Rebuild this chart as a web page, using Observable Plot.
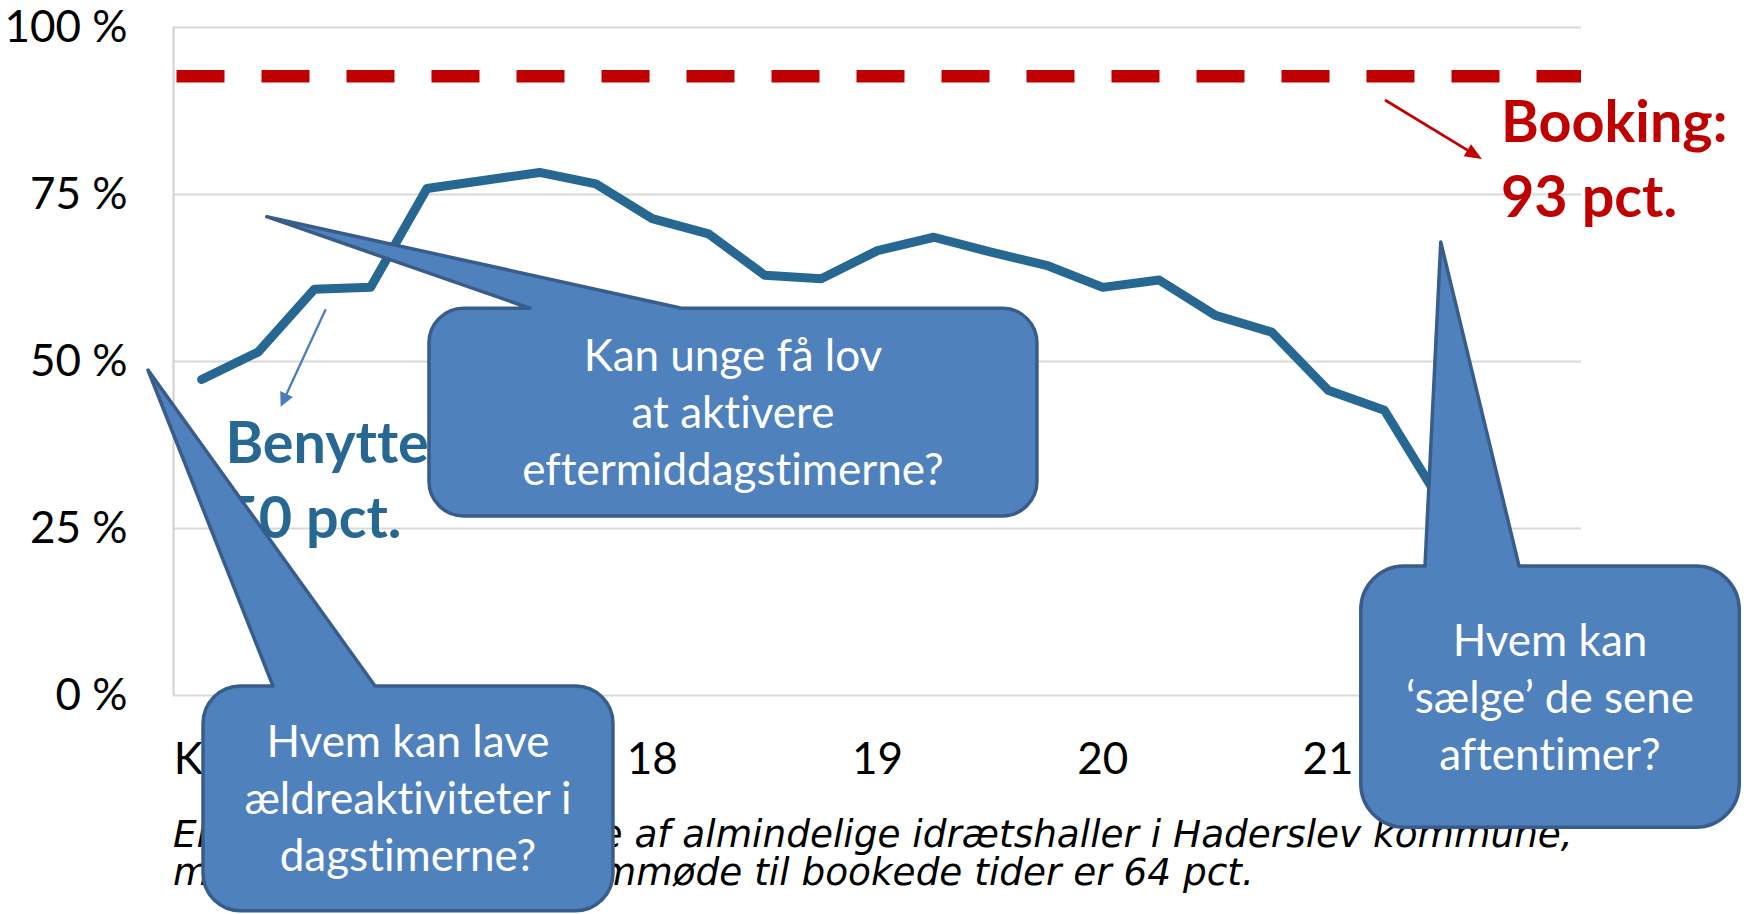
<!DOCTYPE html>
<html><head><meta charset="utf-8">
<script src="https://cdn.jsdelivr.net/npm/d3@7"></script>
<script src="https://cdn.jsdelivr.net/npm/@observablehq/plot@0.6"></script>
<style>html,body{margin:0;padding:0;background:#fff;overflow:hidden} svg text{font-variant-ligatures:none;font-feature-settings:"liga" 0}</style>
</head><body><div id="chart"></div>
<script>
// ---- data ----
const times = ["16:00","16:15","16:30","16:45","17:00","17:15","17:30","17:45",
  "18:00","18:15","18:30","18:45","19:00","19:15","19:30","19:45",
  "20:00","20:15","20:30","20:45","21:00","21:15","21:30","21:45","22:00"];
const usage = [47.3, 51.4, 60.8, 61.1, 75.9, 77.1, 78.3, 76.6,
  71.4, 69.1, 62.9, 62.4, 66.6, 68.6, 66.4, 64.4,
  61.1, 62.2, 56.9, 54.4, 45.7, 42.7, 29, 20, 12];
const booking = 92.7;
const yTicks = [0, 25, 50, 75, 100];
const yTickLabels = ["0 %", "25 %", "50 %", "75 %", "100 %"];
const xTicks = [0, 4, 8, 12, 16, 20, 24];
const xTickLabels = ["Kl. 16", "17", "18", "19", "20", "21", "22"];
const bookingLabel = ["Booking:", "93 pct."];
const usageLabel = ["Benyttelse:", "50 pct."];
const captionLines = [
  "Eksempel på benyttelse af almindelige idrætshaller i Haderslev kommune,",
  "mens det egentlige fremmøde til bookede tider er 64 pct."
];
const callout1Text = ["Kan unge få lov", "at aktivere", "eftermiddagstimerne?"];
const callout2Text = ["Hvem kan lave", "ældreaktiviteter i", "dagstimerne?"];
const callout3Text = ["Hvem kan", "‘sælge’ de sene", "aftentimer?"];

const rows = times.map((t, i) => ({t, i, v: usage[i]}));

// ---- annotation placement (in data units: x = quarter-hour index, y = percent) ----
const callouts = [
  {text: callout1Text, x0: 4.045, x1: 14.84, yTop: 57.9, yBot: 26.8, ax: 1.164, ay: 71.6, b0: 5.84, b1: 8.53},
  {text: callout2Text, x0: 0.033, x1: 7.312, yTop: 1.35, yBot: -32.3, ax: -0.944, ay: 48.65, b0: 1.276, b1: 3.087},
  {text: callout3Text, x0: 20.59, x1: 27.31, yTop: 19.3, yBot: -19.8, ax: 22.01, ay: 67.8, b0: 21.73, b1: 23.4}
];
const arrows = [
  {x1: 21.02, y1: 89.07, x2: 22.74, y2: 80.24, color: "#c00000", w: 2.7, len: 17, half: 7},
  {x1: 2.211, y1: 57.74, x2: 1.412, y2: 43.16, color: "#4a7ebb", w: 2.3, len: 14, half: 7}
];
const labelPos = {
  booking: {x: 23.08, y: 82.83, color: "#c00000"},
  usage: {x: 0.43, y: 34.7, color: "#276893"},
  caption: {x: -0.5, y: -22.7}
};

function annotations(index, scales) {
  const x = scales.x, y = scales.y;
  const g = d3.create("svg:g");
  // caption
  const cap = g.append("text")
    .attr("font-family", "'DejaVu Sans', Verdana, sans-serif").attr("text-anchor", "start")
    .attr("font-style", "italic").attr("font-size", 37.4).attr("fill", "#000");
  captionLines.forEach((s, i) => cap.append("tspan")
    .attr("x", x(labelPos.caption.x)).attr("y", y(labelPos.caption.y) + i * 38.3).text(s));
  // bold labels
  for (const [lines, p] of [[usageLabel, labelPos.usage], [bookingLabel, labelPos.booking]]) {
    const t = g.append("text").attr("font-family", "Lato, sans-serif").attr("font-weight", 700)
      .attr("text-anchor", "start").attr("font-size", 57.5).attr("fill", p.color);
    lines.forEach((s, i) => t.append("tspan").attr("x", x(p.x)).attr("y", y(p.y) + i * 75).text(s));
  }
  // arrows
  for (const a of arrows) {
    const X1 = x(a.x1), Y1 = y(a.y1), X2 = x(a.x2), Y2 = y(a.y2);
    const dx = X2 - X1, dy = Y2 - Y1, L = Math.hypot(dx, dy), ux = dx / L, uy = dy / L;
    const bx = X2 - ux * a.len, by = Y2 - uy * a.len;
    g.append("line").attr("x1", X1).attr("y1", Y1).attr("x2", bx + ux * 2).attr("y2", by + uy * 2)
      .attr("stroke", a.color).attr("stroke-width", a.w);
    g.append("path").attr("d", `M${X2},${Y2}L${bx - uy * a.half},${by + ux * a.half}L${bx + uy * a.half},${by - ux * a.half}Z`)
      .attr("fill", a.color);
  }
  // callouts
  for (const c of callouts) {
    const x0 = x(c.x0), x1 = x(c.x1), y0 = y(c.yTop), y1 = y(c.yBot);
    const r = Math.min(x1 - x0, y1 - y0) / 6;
    const bl = x(c.b0), br = x(c.b1), ax = x(c.ax), ay = y(c.ay);
    const d = `M${x0 + r},${y0}L${bl},${y0}L${ax},${ay}L${br},${y0}L${x1 - r},${y0}` +
      `A${r},${r} 0 0 1 ${x1},${y0 + r}L${x1},${y1 - r}A${r},${r} 0 0 1 ${x1 - r},${y1}` +
      `L${x0 + r},${y1}A${r},${r} 0 0 1 ${x0},${y1 - r}L${x0},${y0 + r}A${r},${r} 0 0 1 ${x0 + r},${y0}Z`;
    g.append("path").attr("d", d).attr("fill", "#4f81bd").attr("stroke", "#385d8a")
      .attr("stroke-width", 3.5).attr("stroke-linejoin", "round");
    const cx = (x0 + x1) / 2, cy = (y0 + y1) / 2, n = c.text.length;
    const t = g.append("text").attr("font-family", "Lato, sans-serif").attr("font-size", 44)
      .attr("fill", "#fff").attr("text-anchor", "middle");
    c.text.forEach((s, i) => t.append("tspan").attr("x", cx)
      .attr("y", cy + (i - (n - 1) / 2) * 57 + 16).text(s));
  }
  return g.node();
}

const chart = Plot.plot({
  width: 1756, height: 914,
  marginLeft: 173, marginRight: 175, marginTop: 27, marginBottom: 219,
  style: {fontFamily: "Lato, sans-serif", background: "#fff", overflow: "visible"},
  x: {domain: [-0.5, 24.5], axis: null},
  y: {domain: [0, 100], axis: null},
  marks: [
    Plot.ruleY(yTicks, {stroke: "#d9d9d9", strokeWidth: 2}),
    Plot.ruleX([-0.5], {stroke: "#d0d0d0", strokeWidth: 2}),
    Plot.ruleY([booking], {stroke: "#c00000", strokeWidth: 12.5, strokeDasharray: "48,37", strokeDashoffset: -3.5}),
    Plot.line(rows, {x: "i", y: "v", stroke: "#276893", strokeWidth: 9, strokeLinejoin: "round", strokeLinecap: "round"}),
    Plot.text(yTicks, {y: d => d, text: (d, i) => yTickLabels[i], frameAnchor: "left", dx: -46,
      textAnchor: "end", lineAnchor: "middle", fontSize: 44, fill: "#000"}),
    Plot.text(xTicks.slice(1), {x: d => d, text: (d, i) => xTickLabels[i + 1], frameAnchor: "bottom",
      dy: 64, lineAnchor: "middle", fontSize: 44, fill: "#000"}),
    Plot.text(xTicks.slice(0, 1), {x: d => d, text: () => xTickLabels[0], frameAnchor: "bottom",
      dy: 64, dx: -28, textAnchor: "start", lineAnchor: "middle", fontSize: 44, fill: "#000"}),
    annotations
  ]
});
document.getElementById("chart").appendChild(chart);
</script>
</body></html>
